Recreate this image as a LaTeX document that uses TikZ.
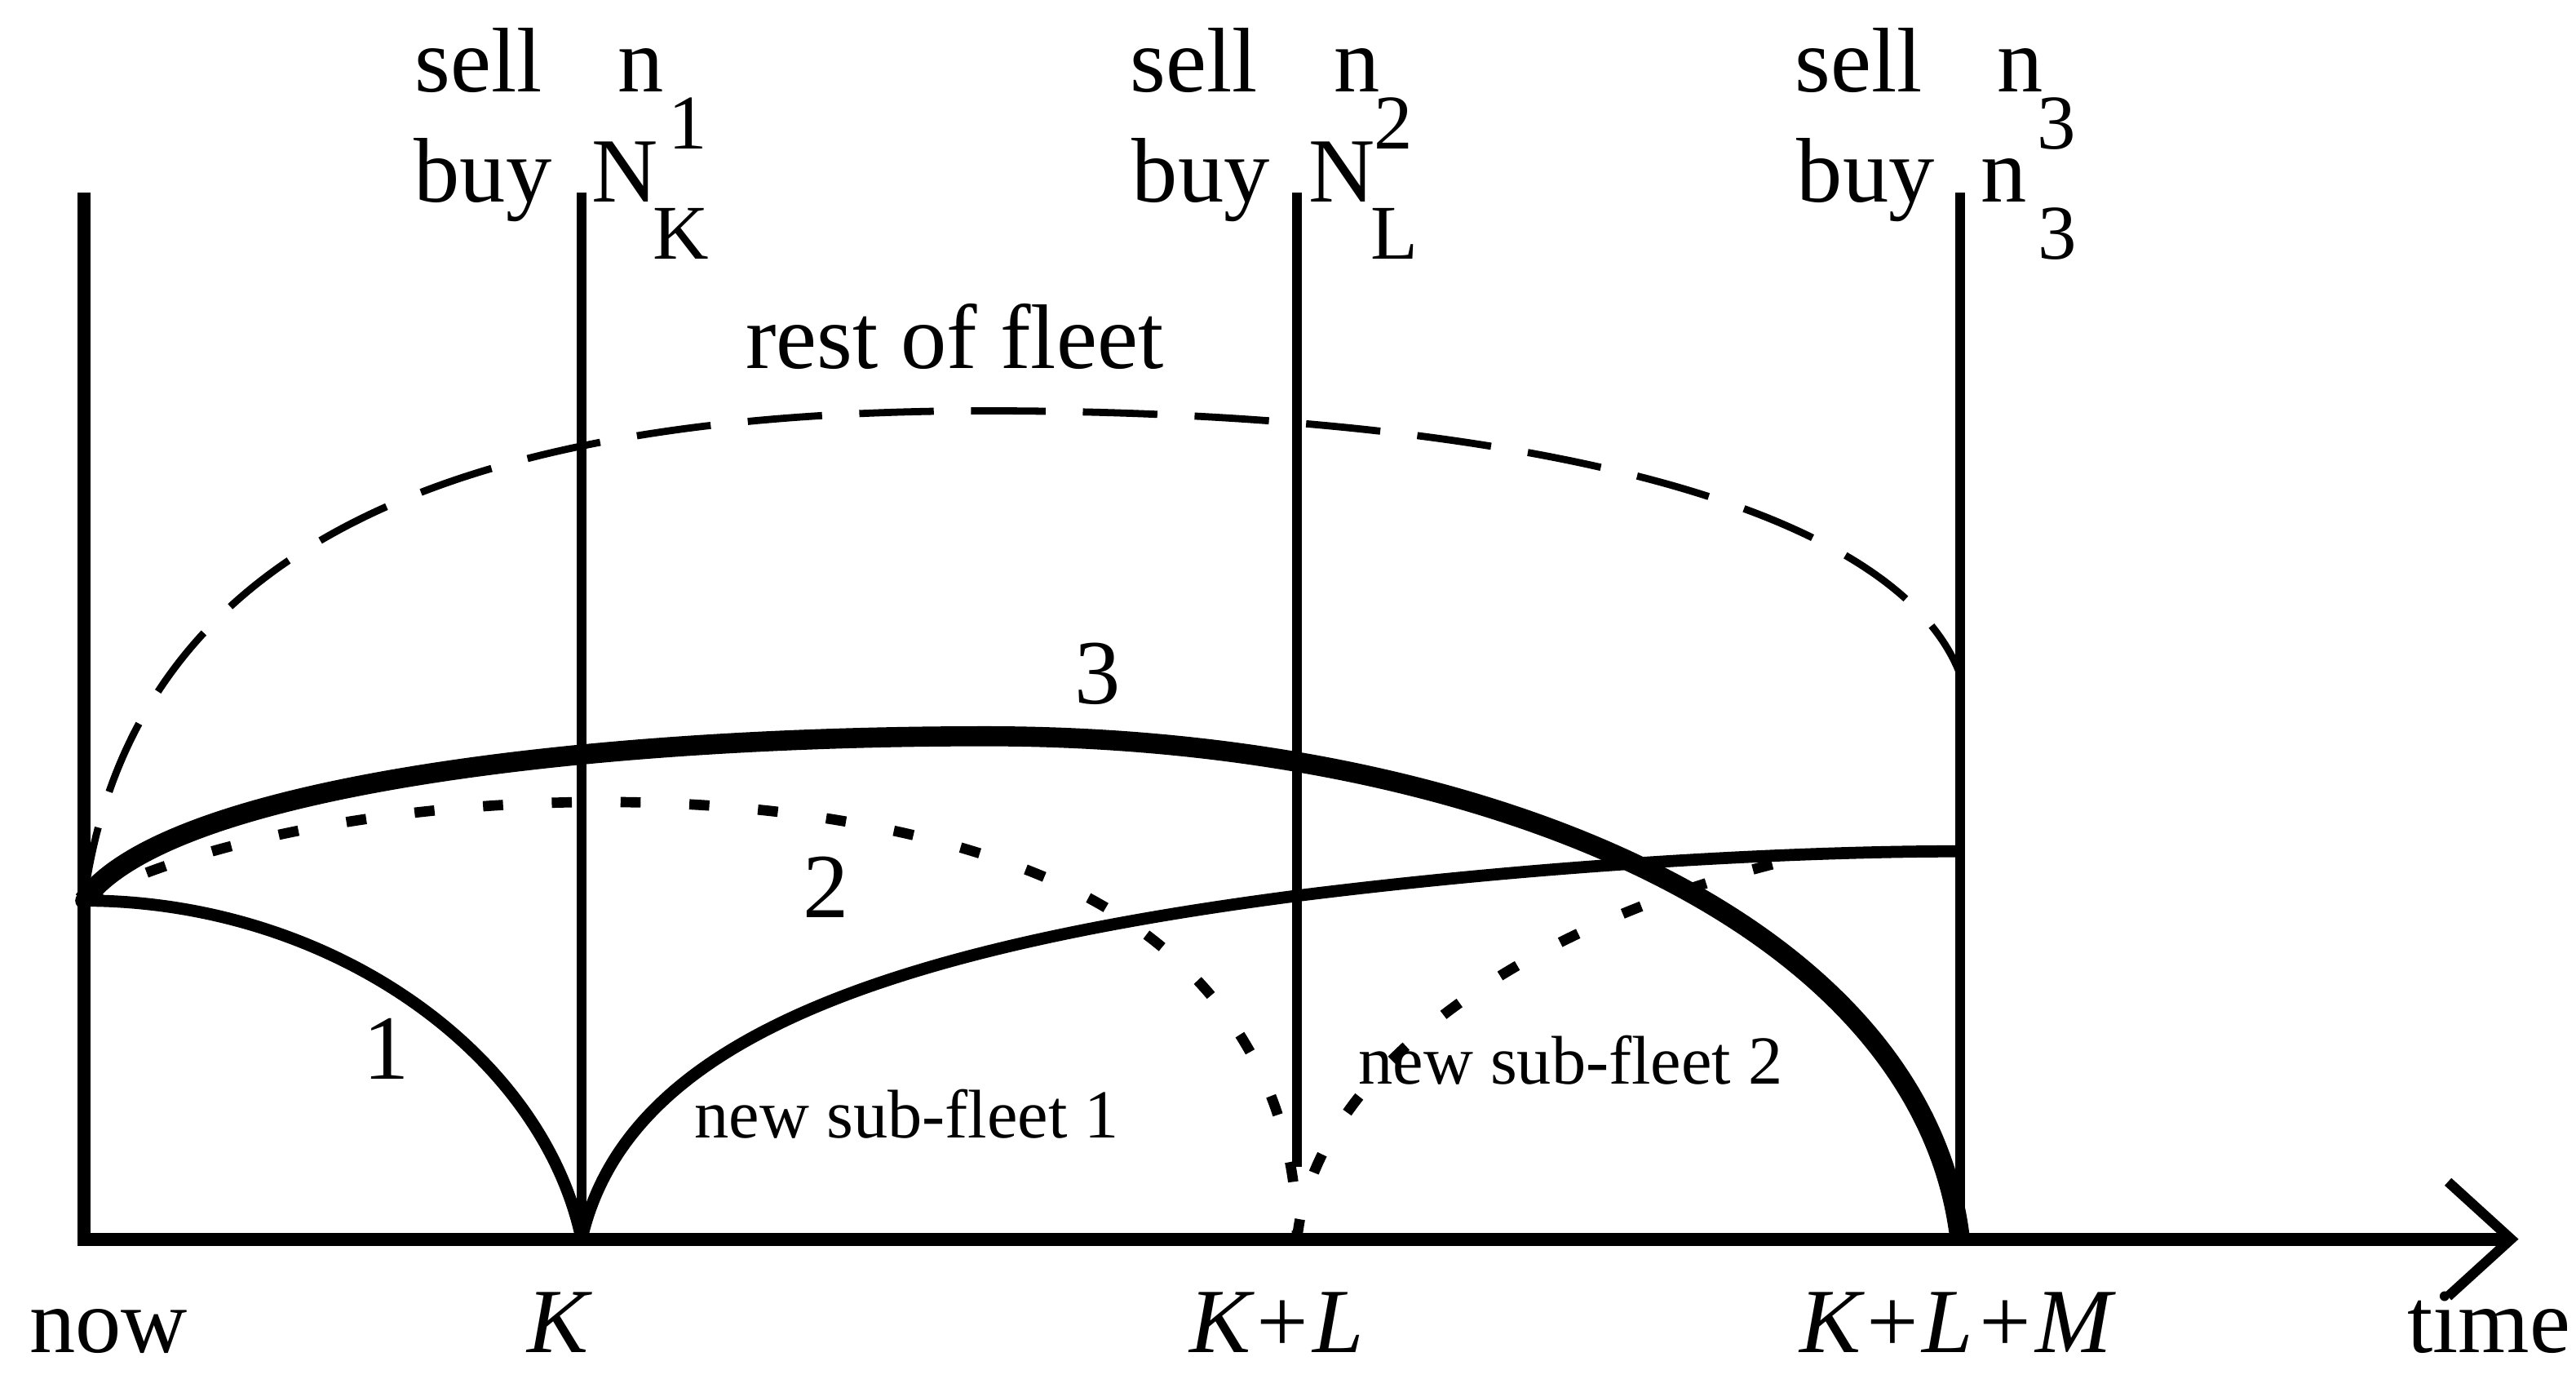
\documentclass[tikz,border=0pt]{standalone}
\usepackage{fontspec}
\setmainfont{Liberation Serif}
\usetikzlibrary{arrows.meta}

\begin{document}
\begin{tikzpicture}[x=0.02014cm, y=-0.02014cm,
      lbl/.style={inner sep=0pt, font=\fontsize{32}{36}\selectfont},
      idx/.style={inner sep=0pt, anchor=base west, font=\fontsize{27}{30}\selectfont},
      note/.style={inner sep=0pt, font=\fontsize{24}{28}\selectfont},
      vline/.style={line width=3.4pt},
      axisline/.style={line width=4.6pt, -{Straight Barb[length=22pt,width=40pt,line width=3.5pt]}},
      fleet/.style={line width=4.2pt},
      fleetbig/.style={line width=7pt},
      restline/.style={line width=2.5pt, dash pattern=on 26pt off 13pt},
      dotline/.style={line width=3.6pt, dash pattern=on 7pt off 17pt}
    ]
  \useasboundingbox (0,0) rectangle (1568,839);

  % points on the time axis
  \coordinate (now) at (51,754);
  \coordinate (tK) at (354,754);
  \coordinate (tKL) at (789.5,754);
  \coordinate (tKLM) at (1193,754);
  \coordinate (tEnd) at (1533,754);
  \coordinate (start) at (51,548);

  % axis and decision lines
  \draw[axisline] (51,117) -- (now) -- (tEnd);
  \draw[vline] (354,117) -- (tK);
  \draw[vline] (789.5,117) -- (789.5,710);
  \draw[vline] (1193,117) -- (tKLM);

  % sub-fleets
  \draw[restline] (start) .. controls (80,330) and (280,250) .. (600,250)
                          .. controls (900,250) and (1150,300) .. (1193,410);
  \draw[fleet] (start) .. controls (200,548) and (330,640) .. (tK);
  \draw[fleetbig] (start) .. controls (100,480) and (350,448) .. (600,448)
                          .. controls (900,448) and (1170,560) .. (tKLM);
  \draw[dotline] (start) .. controls (180,480) and (480,460) .. (650,540)
                         .. controls (730,578) and (789.5,650) .. (tKL);
  \draw[fleet] (tK) .. controls (380,640) and (520,580) .. (790,545)
                    .. controls (950,525) and (1100,518) .. (1193,518);
  \draw[dotline] (tKL) .. controls (800,650) and (930,560) .. (1095,522);
  \fill (start) circle (3pt);

  % labels in the plot
  \node[lbl] (rest) at (581,205) {rest of fleet};
  \node[lbl] (c3) at (668,410) {3};
  \node[lbl] (c2) at (503,540) {2};
  \node[lbl] (c1) at (235,638) {1};
  \node[note] (nsf1) at (552,678) {new sub-fleet 1};
  \node[note] (nsf2) at (956,645) {new sub-fleet 2};

  % time labels
  \node[lbl, anchor=base] (lnow) at (66,823) {now};
  \node[lbl, anchor=base] (lK) at (340.6,823) {\textit{K}};
  \node[lbl, anchor=base] (lKL) at (777,823) {\textit{K+L}};
  \node[lbl, anchor=base] (lKLM) at (1191.7,823) {\textit{K+L+M}};
  \node[lbl, anchor=base] (ltime) at (1515,823) {time};

  % sell / buy at K
  \node[lbl, anchor=base west] (sellA) at (252.2,56.1) {sell};
  \node[lbl, anchor=base west] (nA) at (375.9,56.1) {n};
  \node[idx] (nAi) at (406.5,90.4) {1};
  \node[lbl, anchor=base west] (buyA) at (251.7,123.1) {buy};
  \node[lbl, anchor=base west] (NA) at (360,123.1) {N};
  \node[idx] (NAi) at (397.2,157.4) {K};
  % sell / buy at K+L
  \node[lbl, anchor=base west] (sellB) at (687.7,56.1) {sell};
  \node[lbl, anchor=base west] (nB) at (811.8,56.1) {n};
  \node[idx] (nBi) at (836,90.4) {2};
  \node[lbl, anchor=base west] (buyB) at (688.7,123.1) {buy};
  \node[lbl, anchor=base west] (NB) at (796.5,123.1) {N};
  \node[idx] (NBi) at (834.2,157.4) {L};
  % sell / buy at K+L+M
  \node[lbl, anchor=base west] (sellC) at (1092.4,56.1) {sell};
  \node[lbl, anchor=base west] (nC) at (1215.5,56.1) {n};
  \node[idx] (nCi) at (1239.8,90.4) {3};
  \node[lbl, anchor=base west] (buyC) at (1093.4,123.1) {buy};
  \node[lbl, anchor=base west] (NC) at (1205.6,123.1) {n};
  \node[idx] (NCi) at (1240.3,157.4) {3};
\end{tikzpicture}
\end{document}
